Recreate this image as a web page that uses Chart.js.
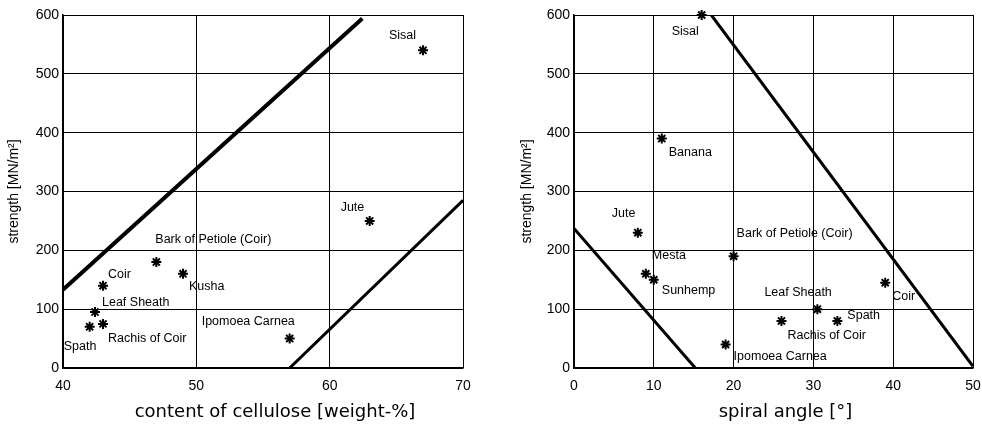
<!DOCTYPE html>
<html>
<head>
<meta charset="utf-8">
<script src="https://cdn.jsdelivr.net/npm/chart.js@4.4.1/dist/chart.umd.min.js"></script>
<style>
  body { margin: 0; background: #fff; }
  .box { position: absolute; top: 0; width: 491px; height: 424px; }
</style>
</head>
<body>
<div class="box" style="left:0"><canvas id="cellulose" width="491" height="424"></canvas></div>
<div class="box" style="left:491px"><canvas id="spiral" width="491" height="424"></canvas></div>
<script>
// left plot: strength vs. cellulose content
const celluloseFibres = ["Sisal", "Jute", "Bark of Petiole (Coir)", "Kusha", "Coir", "Leaf Sheath", "Spath", "Rachis of Coir", "Ipomoea Carnea"];
const celluloseContent = [67, 63, 47, 49, 43, 42.4, 42, 43, 57];
const celluloseStrength = [540, 250, 180, 160, 140, 95, 70, 75, 50];
const celluloseUpperX = [40, 62.45];
const celluloseUpperY = [133, 594];
const celluloseLowerX = [57, 70];
const celluloseLowerY = [0, 285];
const celluloseTicks = [40, 50, 60, 70];

// right plot: strength vs. spiral angle
const spiralFibres = ["Sisal", "Banana", "Jute", "Mesta", "Sunhemp", "Bark of Petiole (Coir)", "Coir", "Leaf Sheath", "Spath", "Rachis of Coir", "Ipomoea Carnea"];
const spiralAngle = [16, 11, 8, 9, 10, 20, 39, 30.5, 33, 26, 19];
const spiralStrength = [600, 390, 230, 160, 150, 190, 145, 100, 80, 80, 40];
const spiralLowerX = [0, 15.2];
const spiralLowerY = [237, 0];
const spiralUpperX = [17.2, 50];
const spiralUpperY = [600, 3];
const spiralTicks = [0, 10, 20, 30, 40, 50];

const strengthTicks = [0, 100, 200, 300, 400, 500, 600];

// where each name sits relative to its star, in pixels
const celluloseLabelOffsets = [[-34, -15], [-29, -13], [-1, -23], [6, 13], [5, -11], [7, -10], [-26, 20], [5, 15], [-88, -17]];
const spiralLabelOffsets = [[-30, 17], [7, 14], [-26, -19], [6, -18], [8, 11], [3, -23], [7, 14], [-53, -17], [10, -5], [6, 15], [8, 12]];

const pairs = (xs, ys) => xs.map((x, i) => ({ x: x, y: ys[i] }));

// fibre names next to the stars, plus the x caption (sits a bit right of centre in the original)
const pointLabels = {
  id: "pointLabels",
  afterDatasetsDraw(chart, args, opts) {
    const meta = chart.getDatasetMeta(0);
    const ctx = chart.ctx;
    ctx.save();
    ctx.font = "12.5px 'Liberation Sans', Arial, sans-serif";
    ctx.fillStyle = "#000";
    ctx.textAlign = "left";
    ctx.textBaseline = "middle";
    opts.names.forEach((name, i) => {
      const pt = meta.data[i];
      const off = opts.offsets[i];
      ctx.fillText(name, pt.x + off[0], pt.y + off[1]);
    });
    ctx.restore();
  },
  afterDraw(chart, args, opts) {
    const ctx = chart.ctx;
    const area = chart.chartArea;
    ctx.save();
    ctx.font = "18px 'DejaVu Sans', sans-serif";
    ctx.fillStyle = "#000";
    ctx.textAlign = "center";
    ctx.textBaseline = "middle";
    ctx.fillText(opts.caption, (area.left + area.right) / 2 + 12, chart.height - 12);
    ctx.restore();
  }
};

function makeChart(id, cfg) {
  const tickFont = { family: "'Liberation Sans', Arial, sans-serif", size: 14 };
  return new Chart(document.getElementById(id), {
    type: "scatter",
    data: {
      datasets: [
        {
          data: pairs(cfg.x, cfg.y),
          pointStyle: "star",
          pointRadius: 5,
          pointBorderWidth: 2,
          borderColor: "#000",
          backgroundColor: "#000",
          clip: false
        },
        ...cfg.lines.map(l => ({
          data: pairs(l.x, l.y),
          showLine: true,
          pointRadius: 0,
          borderColor: "#000",
          borderWidth: l.width
        }))
      ]
    },
    options: {
      responsive: false,
      animation: false,
      layout: { padding: { top: 15, right: cfg.padRight, left: 0, bottom: 0 } },
      plugins: {
        legend: { display: false },
        tooltip: { enabled: false },
        pointLabels: { names: cfg.names, offsets: cfg.offsets, caption: cfg.xTitle }
      },
      scales: {
        x: {
          type: "linear",
          min: cfg.xTicks[0],
          max: cfg.xTicks[cfg.xTicks.length - 1],
          afterBuildTicks: s => { s.ticks = cfg.xTicks.map(v => ({ value: v })); },
          // fixed height, and let the end labels hang into the margin
          afterFit: s => { s.height = 56; s.paddingLeft = 0; s.paddingRight = 0; },
          grid: { color: "#000", lineWidth: 1, drawTicks: false },
          border: { color: "#000", width: 1.5 },
          ticks: { color: "#000", font: tickFont, padding: 10, maxRotation: 0 }
        },
        y: {
          type: "linear",
          min: 0,
          max: 600,
          afterBuildTicks: s => { s.ticks = strengthTicks.map(v => ({ value: v })); },
          afterFit: s => { s.width = cfg.yWidth; },
          grid: { color: "#000", lineWidth: 1, drawTicks: false },
          border: { color: "#000", width: 1.5 },
          ticks: { color: "#000", font: tickFont, padding: 4 },
          title: {
            display: true,
            text: "strength [MN/m²]",
            color: "#000",
            font: { family: "'Liberation Sans', Arial, sans-serif", size: 14 },
            padding: { top: cfg.yTitlePad, bottom: 0 }
          }
        }
      }
    },
    plugins: [pointLabels]
  });
}

makeChart("cellulose", {
  x: celluloseContent,
  y: celluloseStrength,
  names: celluloseFibres,
  offsets: celluloseLabelOffsets,
  lines: [
    { x: celluloseUpperX, y: celluloseUpperY, width: 4 },
    { x: celluloseLowerX, y: celluloseLowerY, width: 3 }
  ],
  xTicks: celluloseTicks,
  xTitle: "content of cellulose [weight-%]",
  yWidth: 63,
  yTitlePad: 6,
  padRight: 28
});

makeChart("spiral", {
  x: spiralAngle,
  y: spiralStrength,
  names: spiralFibres,
  offsets: spiralLabelOffsets,
  lines: [
    { x: spiralLowerX, y: spiralLowerY, width: 3 },
    { x: spiralUpperX, y: spiralUpperY, width: 3 }
  ],
  xTicks: spiralTicks,
  xTitle: "spiral angle [°]",
  yWidth: 83,
  yTitlePad: 28,
  padRight: 9
});
</script>
</body>
</html>
